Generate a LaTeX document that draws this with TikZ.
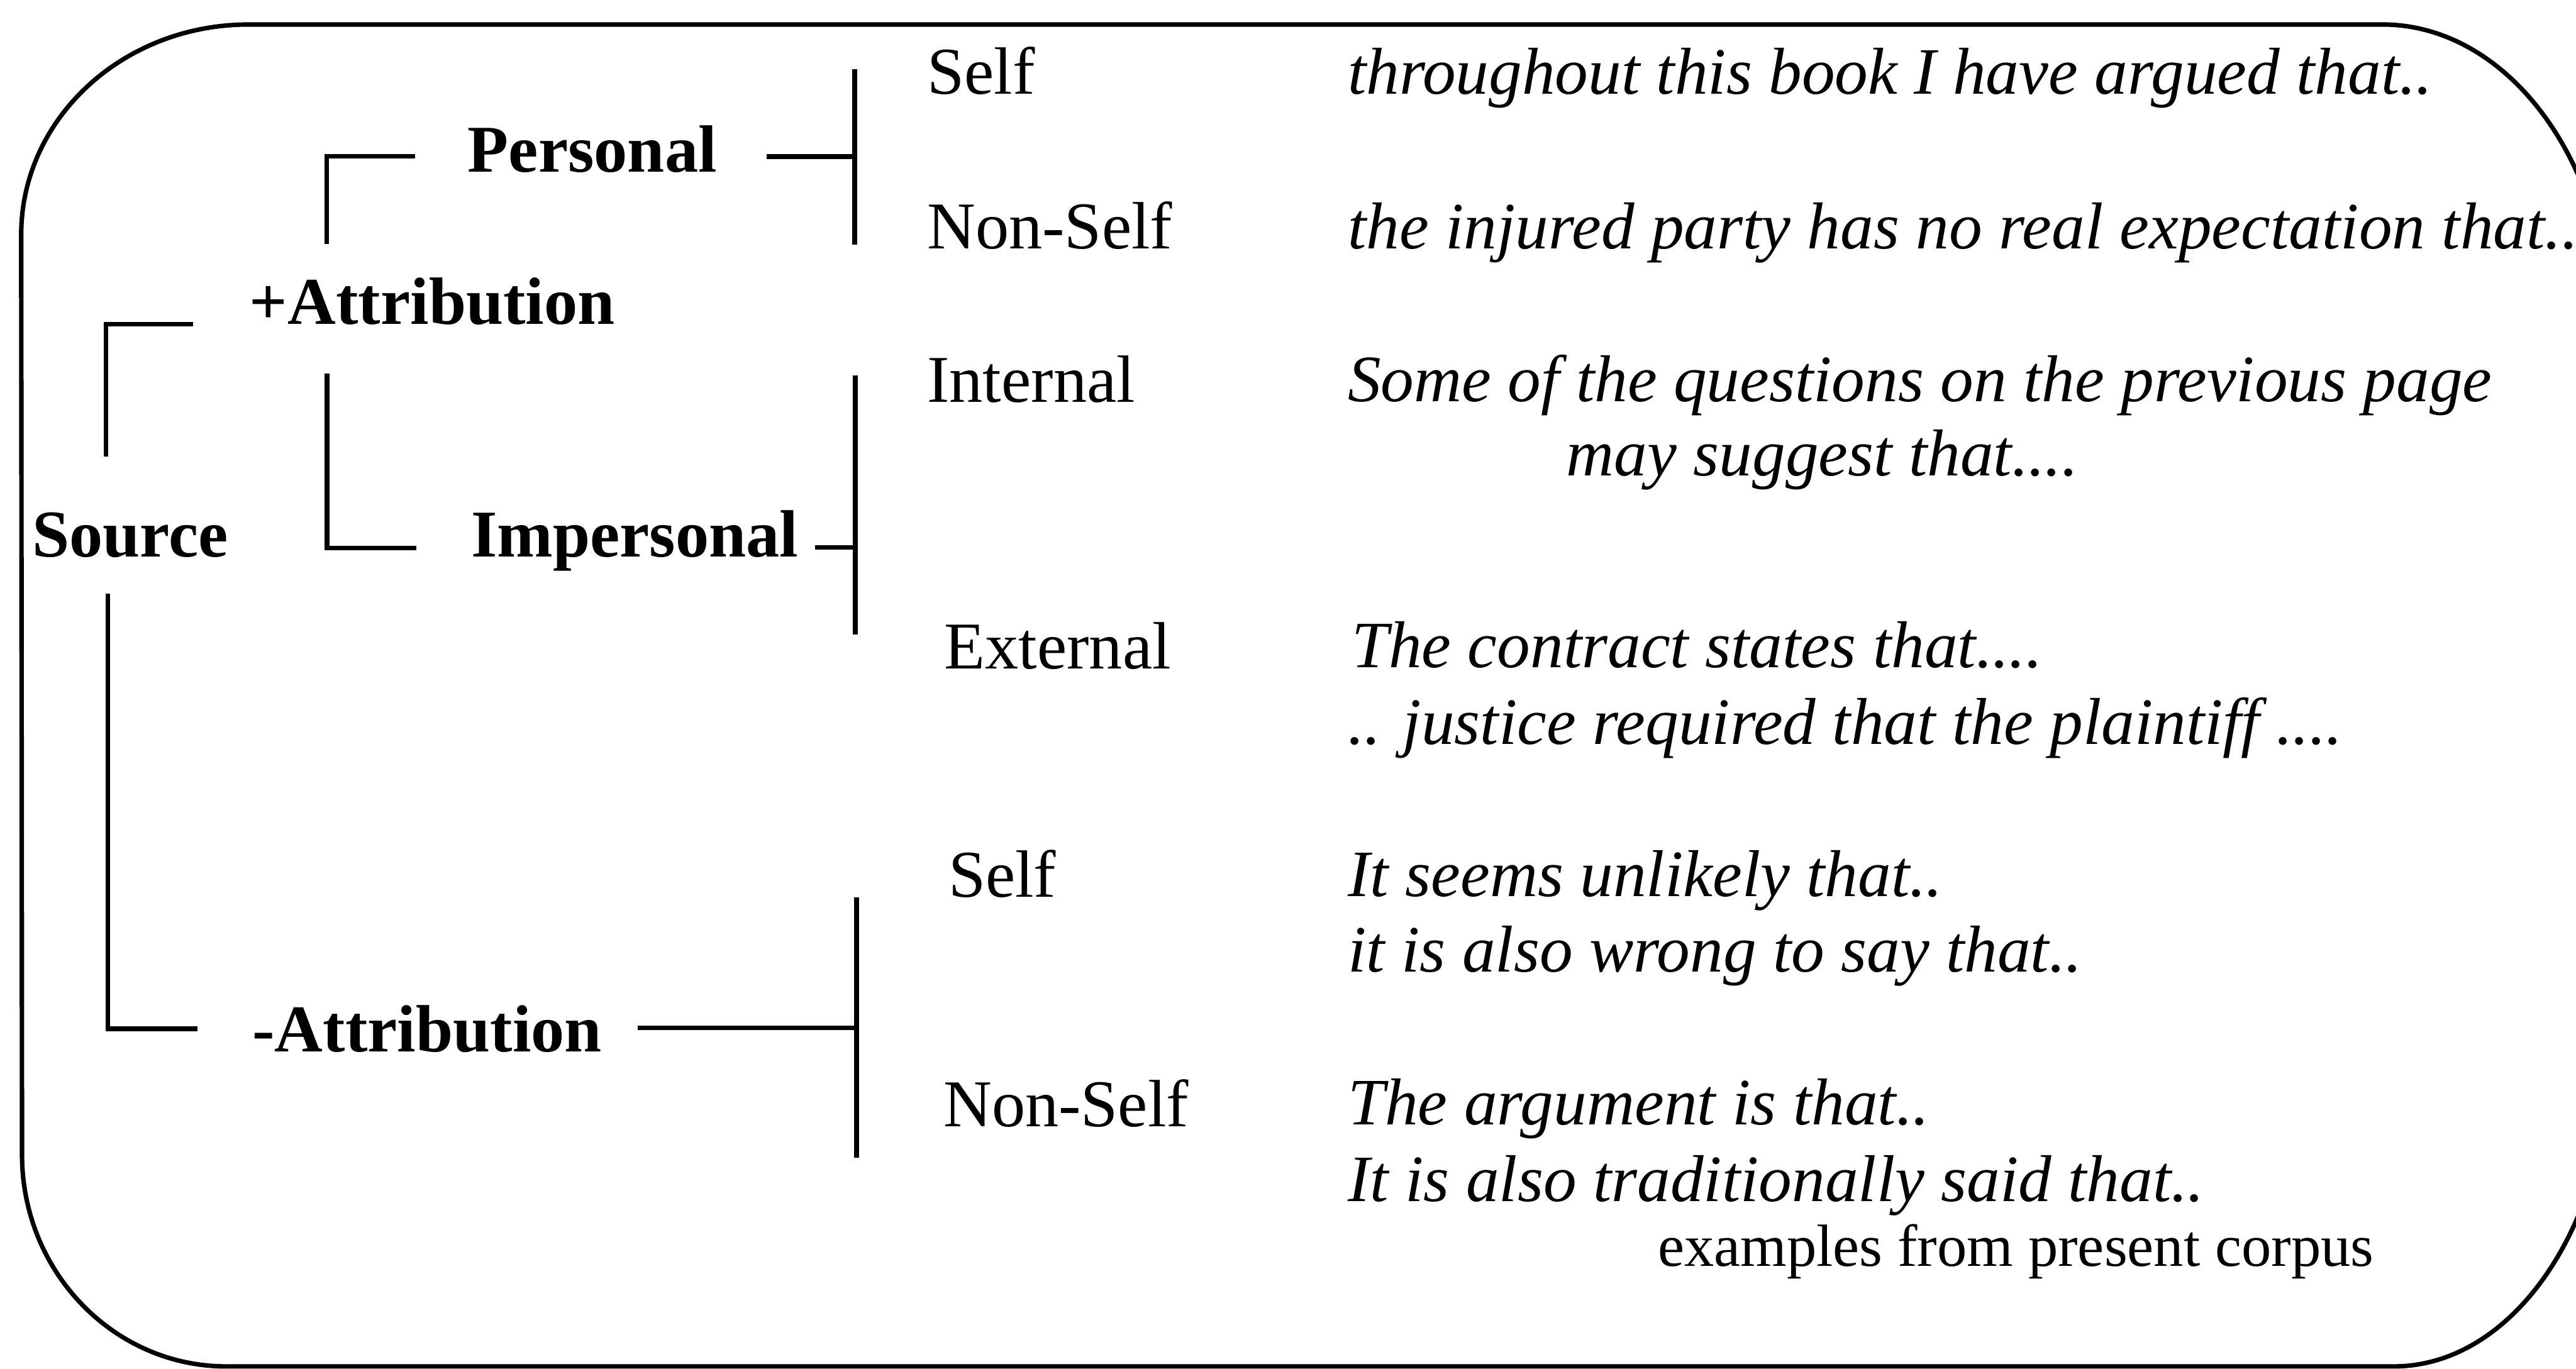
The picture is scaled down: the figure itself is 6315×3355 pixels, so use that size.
\documentclass[tikz,border=0pt]{standalone}
\usepackage{fontspec}
\setmainfont{Liberation Serif}
\begin{document}
\begin{tikzpicture}[x=0.1pt,y=-0.1pt,
  lbl/.style={anchor=base west,inner sep=0pt,font=\fontsize{16.4}{19}\selectfont\bfseries},
  cat/.style={anchor=base west,inner sep=0pt,font=\fontsize{16.4}{19}\selectfont},
  ex/.style={anchor=base west,inner sep=0pt,font=\fontsize{16.25}{19}\selectfont\itshape},
  note/.style={anchor=base west,inner sep=0pt,font=\fontsize{14.6}{17}\selectfont},
  br/.style={line width=1.15pt},
  frame/.style={line width=1.1pt}]
\useasboundingbox (0,0) rectangle (6315,3355);
\clip (0,0) rectangle (6315,3355);
% outer rounded frame
\draw[frame] (52,575) .. controls (52,291) and (301,60) .. (610,60)
  -- (5840,60) .. controls (6149,60) and (6400,400) .. (6400,820)
  -- (6400,2570) .. controls (6400,3001) and (6162,3350) .. (5868,3350)
  -- (555,3350) .. controls (279,3350) and (54,3118) .. (54,2831) -- cycle;
% labels
\node[lbl] (src) at (77,1365) {Source};
\node[lbl] (plusA) at (610,794) {+Attribution};
\node[lbl] (pers) at (1145,421) {Personal};
\node[lbl] (imp) at (1153,1365) {Impersonal};
\node[lbl] (minusA) at (617,2579) {-Attribution};
\node[cat] (self1) at (2271,230) {Self};
\node[cat] (nself1) at (2271,609) {Non-Self};
\node[cat] (int) at (2271,986) {Internal};
\node[cat] (ext) at (2313,1640) {External};
\node[cat] (self2) at (2323,2200) {Self};
\node[cat] (nself2) at (2311,2762) {Non-Self};
\node[ex] (ex1) at (3302,230) {throughout this book I have argued that..};
\node[ex] (ex2) at (3302,609) {the injured party has no real expectation that..};
\node[ex] (ex3a) at (3302,984) {Some of the questions on the previous page};
\node[ex] (ex3b) at (3838,1166) {may suggest that....};
\node[ex] (ex4a) at (3312,1636) {The contract states that....};
\node[ex] (ex4b) at (3302,1825) {.. justice required that the plaintiff ....};
\node[ex] (ex5a) at (3303,2198) {It seems unlikely that..};
\node[ex] (ex5b) at (3303,2383) {it is also wrong to say that..};
\node[ex] (ex6a) at (3303,2758) {The argument is that..};
\node[ex] (ex6b) at (3303,2945) {It is also traditionally said that..};
\node[note] (corpus) at (4062,3104) {examples from present corpus};
% bracket coordinates
\coordinate (s1) at (260,1120); \coordinate (s2) at (260,795); \coordinate (s3) at (474,795);
\coordinate (s4) at (264,1455); \coordinate (s5) at (264,2522); \coordinate (s6) at (484,2522);
\coordinate (p1) at (801,598); \coordinate (p2) at (801,383); \coordinate (p3) at (1018,383);
\coordinate (p4) at (802,915); \coordinate (p5) at (802,1344); \coordinate (p6) at (1020,1344);
\coordinate (pr1) at (1879,384); \coordinate (pr2) at (2095,384);
\coordinate (pr3) at (2095,170); \coordinate (pr4) at (2095,599);
\coordinate (ir1) at (1998,1342); \coordinate (ir2) at (2097,1342);
\coordinate (ir3) at (2097,921); \coordinate (ir4) at (2097,1556);
\coordinate (mr1) at (1564,2520); \coordinate (mr2) at (2100,2520);
\coordinate (mr3) at (2100,2200); \coordinate (mr4) at (2100,2838);
% brackets
\draw[br] (s1) -- (s2) -- (s3);
\draw[br] (s4) -- (s5) -- (s6);
\draw[br] (p1) -- (p2) -- (p3);
\draw[br] (p4) -- (p5) -- (p6);
\draw[br] (pr1) -- (pr2);
\draw[br] (pr3) -- (pr4);
\draw[br] (ir1) -- (ir2);
\draw[br] (ir3) -- (ir4);
\draw[br] (mr1) -- (mr2);
\draw[br] (mr3) -- (mr4);
\end{tikzpicture}
\end{document}
